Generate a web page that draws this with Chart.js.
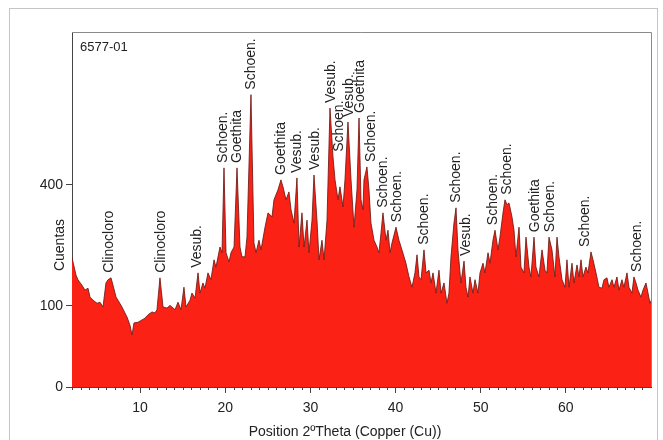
<!DOCTYPE html>
<html>
<head>
<meta charset="utf-8">
<script src="https://cdn.jsdelivr.net/npm/chart.js@4/dist/chart.umd.min.js"></script>
<style>
  html, body { margin: 0; padding: 0; background: #fff; }
  canvas { display: block; }
</style>
</head>
<body>
<canvas id="xrd" width="663" height="440"></canvas>
<script>
// 2theta (deg) / counts
const twoTheta = [
  2.00, 2.47, 2.70, 3.17, 3.53, 3.88, 4.11, 4.47, 4.94, 5.29, 5.64, 5.99, 6.23, 6.58, 6.82, 7.17, 7.40, 7.87,
  8.22, 8.46, 8.81, 9.05, 9.28, 9.75, 10.22, 10.57, 10.93, 11.40, 11.75, 11.98, 12.33, 12.69, 13.16, 13.51,
  14.10, 14.45, 14.80, 15.15, 15.39, 15.86, 16.09, 16.45, 16.80, 17.03, 17.38, 17.62, 17.97, 18.32, 18.68, 18.91,
  19.38, 19.62, 19.85, 20.09, 20.44, 20.67, 21.03, 21.38, 21.73, 21.96, 22.32, 22.55, 23.02, 23.37, 23.61, 23.96,
  24.20, 24.67, 25.02, 25.49, 25.72, 26.19, 26.54, 26.78, 27.13, 27.48, 27.72, 28.07, 28.42, 28.66, 29.01, 29.25,
  29.60, 29.83, 30.19, 30.42, 30.77, 31.01, 31.36, 31.60, 31.95, 32.30, 32.65, 32.89, 33.24, 33.47, 33.83, 34.06,
  34.41, 34.77, 35.12, 35.47, 35.71, 35.94, 36.17, 36.29, 36.64, 36.88, 37.11, 37.47, 37.82, 38.05, 38.29, 38.52,
  38.88, 39.11, 39.35, 39.58, 40.05, 40.40, 40.75, 41.22, 41.58, 41.93, 42.28, 42.52, 42.75, 42.99, 43.34, 43.58,
  43.93, 44.16, 44.40, 44.75, 45.10, 45.34, 45.69, 46.04, 46.27, 46.51, 46.86, 47.10, 47.33, 47.68, 48.04, 48.27,
  48.51, 48.74, 49.09, 49.33, 49.68, 49.92, 50.27, 50.50, 50.86, 51.09, 51.44, 51.68, 52.03, 52.26, 52.62, 52.85,
  53.09, 53.32, 53.67, 53.91, 54.14, 54.50, 54.73, 55.08, 55.32, 55.67, 55.90, 56.26, 56.49, 56.84, 57.20, 57.55,
  57.78, 58.02, 58.37, 58.72, 58.96, 59.19, 59.55, 59.90, 60.13, 60.37, 60.72, 60.95, 61.31, 61.54, 61.78, 62.01,
  62.36, 62.60, 62.95, 63.19, 63.54, 63.89, 64.24, 64.48, 64.83, 65.06, 65.42, 65.65, 66.00, 66.24, 66.59, 66.82,
  67.18, 67.41, 67.76, 68.00, 68.24, 68.47, 68.82, 69.06, 69.41, 69.65, 69.88, 70.00
];
const counts = [
  203, 163, 153, 141, 131, 135, 117, 111, 105, 107, 98, 146, 153, 157, 141, 117, 111, 98,
  87, 80, 66, 51, 70, 71, 75, 78, 84, 89, 87, 93, 157, 98, 96, 101,
  93, 107, 93, 137, 98, 111, 125, 115, 168, 125, 146, 135, 168, 153, 198, 181,
  229, 215, 452, 215, 193, 215, 229, 452, 229, 205, 205, 254, 700, 239, 215, 246,
  222, 280, 319, 308, 356, 385, 415, 394, 356, 379, 328, 291, 421, 229, 319, 229,
  299, 215, 299, 430, 299, 198, 246, 198, 299, 652, 487, 415, 356, 394, 336, 415,
  603, 415, 280, 385, 617, 356, 328, 415, 455, 385, 291, 246, 229, 215, 264, 319,
  246, 272, 215, 239, 280, 246, 222, 190, 159, 137, 168, 210, 159, 153, 222, 168,
  174, 146, 168, 125, 174, 125, 146, 105, 125, 205, 291, 333, 222, 146, 195, 137,
  117, 159, 125, 153, 125, 168, 190, 168, 215, 190, 246, 272, 222, 254, 319, 356,
  342, 347, 308, 272, 205, 280, 181, 168, 254, 181, 159, 254, 181, 159, 222, 174,
  168, 254, 222, 159, 254, 205, 153, 137, 198, 137, 190, 146, 186, 159, 198, 159,
  181, 168, 217, 198, 168, 137, 135, 153, 157, 137, 153, 137, 159, 131, 153, 137,
  168, 137, 125, 159, 146, 131, 117, 131, 146, 125, 105, 110
];

// phase labels above the peaks
const peakNames = [
  'Clinocloro', 'Clinocloro', 'Vesub.', 'Schoen.', 'Goethita', 'Schoen.', 'Goethita', 'Vesub.', 'Vesub.',
  'Vesub.', 'Schoen.', 'Vesub.', 'Goethita', 'Schoen.', 'Schoen.', 'Schoen.', 'Schoen.', 'Schoen.',
  'Vesub.', 'Schoen.', 'Schoen.', 'Goethita', 'Schoen.', 'Schoen.', 'Schoen.'
];
const peakTheta = [
  6.35, 12.45, 16.68, 19.73, 21.38, 23.02, 26.54, 28.42, 30.54,
  32.42, 33.36, 34.53, 35.82, 37.11, 38.52, 40.17, 43.34, 47.10,
  48.27, 51.44, 53.09, 56.37, 58.14, 62.25, 68.35
];

const xTicks = [10, 20, 30, 40, 50, 60];
const yTicks = [0, 100, 400];
const sampleId = '6577-01';

const FONT = "'Liberation Sans', Arial, sans-serif";
const EXP = 0.659; // the count axis is compressed (between sqrt and linear)

// count axis with a power transform
class PowerScale extends Chart.LinearScale {
  tr(v) { return Math.sign(v) * Math.pow(Math.abs(v), EXP); }
  getPixelForValue(value) {
    if (value === null || isNaN(value)) return NaN;
    const a = this.tr(this.min), b = this.tr(this.max);
    return this.getPixelForDecimal((this.tr(value) - a) / (b - a));
  }
  getValueForPixel(pixel) {
    const a = this.tr(this.min), b = this.tr(this.max);
    const t = a + this.getDecimalForPixel(pixel) * (b - a);
    return Math.sign(t) * Math.pow(Math.abs(t), 1 / EXP);
  }
}
PowerScale.id = 'power';
PowerScale.defaults = {};
Chart.register(PowerScale);

const decor = {
  id: 'decor',
  beforeDraw(chart) {
    const ctx = chart.ctx;
    ctx.save();
    ctx.fillStyle = '#fff';
    ctx.fillRect(0, 0, chart.width, chart.height);
    ctx.strokeStyle = '#c4c4c4';
    ctx.lineWidth = 1;
    ctx.strokeRect(9.5, 8.5, 648, 440);
    ctx.restore();
  },
  beforeDatasetsDraw(chart) {
    const ctx = chart.ctx;
    const xs = chart.scales.x, ys = chart.scales.y;
    ctx.save();
    ctx.fillStyle = '#222';
    ctx.font = '14px ' + FONT;
    ctx.textAlign = 'left';
    ctx.textBaseline = 'middle';
    peakTheta.forEach((t, i) => {
      let top = 0;
      twoTheta.forEach((v, j) => {
        if (Math.abs(v - t) <= 0.75) top = Math.max(top, counts[j]);
      });
      const x = xs.getPixelForValue(t);
      const y = ys.getPixelForValue(top) - 5;
      ctx.save();
      ctx.translate(x, y);
      ctx.rotate(-Math.PI / 2);
      ctx.fillText(peakNames[i], 0, 0);
      ctx.restore();
    });
    ctx.restore();
  },
  afterDraw(chart) {
    const ctx = chart.ctx;
    const area = chart.chartArea;
    const xs = chart.scales.x;
    ctx.save();
    // top and right frame
    ctx.strokeStyle = '#8a8a8a';
    ctx.lineWidth = 1;
    ctx.beginPath();
    ctx.moveTo(area.left, area.top + 0.5);
    ctx.lineTo(area.right + 0.5, area.top + 0.5);
    ctx.lineTo(area.right + 0.5, area.bottom);
    ctx.stroke();
    // minor ticks every degree
    ctx.strokeStyle = '#444';
    ctx.beginPath();
    for (let v = 2; v <= 70; v++) {
      if (v % 10 === 0) continue;
      const x = Math.round(xs.getPixelForValue(v)) + 0.5;
      ctx.moveTo(x, area.bottom);
      ctx.lineTo(x, area.bottom + 3);
    }
    ctx.stroke();
    // texts
    ctx.fillStyle = '#222';
    ctx.font = '13px ' + FONT;
    ctx.textAlign = 'left';
    ctx.textBaseline = 'middle';
    ctx.fillText(sampleId, 80, 47);
    ctx.font = '14px ' + FONT;
    ctx.textAlign = 'center';
    ctx.fillText('Position 2\u00BATheta (Copper (Cu))', 345, 432);
    ctx.translate(60, 245);
    ctx.rotate(-Math.PI / 2);
    ctx.fillText('Cuentas', 0, 0);
    ctx.restore();
  }
};

new Chart(document.getElementById('xrd'), {
  type: 'line',
  data: {
    datasets: [{
      data: twoTheta.map((t, i) => ({ x: t, y: counts[i] })),
      backgroundColor: '#fb2114',
      borderColor: 'rgba(110,25,20,0.85)',
      borderWidth: 1,
      pointRadius: 0,
      tension: 0,
      fill: 'origin'
    }]
  },
  options: {
    responsive: false,
    animation: false,
    events: [],
    layout: { padding: { left: 0, top: 32, right: 12, bottom: 0 } },
    plugins: { legend: { display: false }, tooltip: { enabled: false } },
    scales: {
      x: {
        type: 'linear',
        min: 2,
        max: 70,
        afterBuildTicks: s => { s.ticks = xTicks.map(v => ({ value: v })); },
        afterFit: s => { s.height = 53; },
        grid: { drawOnChartArea: false, drawTicks: true, tickLength: 6, color: '#444' },
        border: { display: true, color: '#444' },
        ticks: { font: { family: FONT, size: 14 }, color: '#222', padding: 7, maxRotation: 0 }
      },
      y: {
        type: 'power',
        min: 0,
        max: 940,
        afterBuildTicks: s => { s.ticks = yTicks.map(v => ({ value: v })); },
        afterFit: s => { s.width = 72; },
        grid: { drawOnChartArea: false, drawTicks: true, tickLength: 6, color: '#444' },
        border: { display: true, color: '#444' },
        ticks: { font: { family: FONT, size: 14 }, color: '#222', padding: 3 }
      }
    }
  },
  plugins: [decor]
});
</script>
</body>
</html>
